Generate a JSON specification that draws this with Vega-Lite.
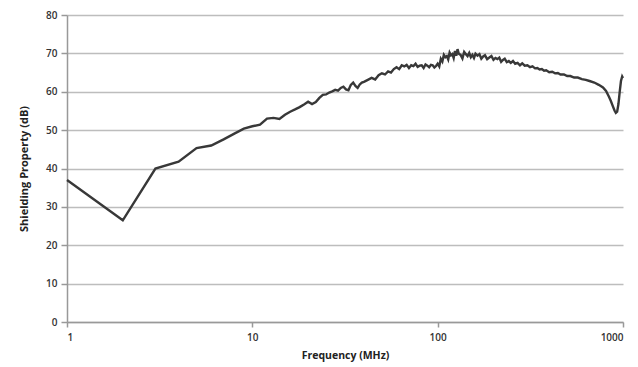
{
  "$schema": "https://vega.github.io/schema/vega-lite/v6.json",
  "width": 556,
  "height": 307,
  "autosize": "none",
  "padding": {"left": 67, "top": 15, "right": 15, "bottom": 45},
  "background": "white",
  "config": {"view": {"stroke": null}},
  "data": {"values": [
    {"f": 1, "db": 37}, {"f": 2, "db": 26.5}, {"f": 3, "db": 40}, {"f": 4, "db": 41.8}, {"f": 5, "db": 45.3},
    {"f": 6, "db": 46}, {"f": 7, "db": 47.6}, {"f": 8, "db": 49.1}, {"f": 9, "db": 50.4}, {"f": 10, "db": 51},
    {"f": 11, "db": 51.4}, {"f": 12, "db": 53}, {"f": 13, "db": 53.2}, {"f": 14, "db": 52.9}, {"f": 15, "db": 54},
    {"f": 16, "db": 54.8}, {"f": 17, "db": 55.4}, {"f": 18, "db": 56}, {"f": 19, "db": 56.7}, {"f": 20, "db": 57.4},
    {"f": 21, "db": 56.8}, {"f": 22, "db": 57.3}, {"f": 23, "db": 58.4}, {"f": 24, "db": 59.2}, {"f": 25, "db": 59.3},
    {"f": 26, "db": 59.8}, {"f": 27, "db": 60.1}, {"f": 28, "db": 60.5}, {"f": 29, "db": 60.3}, {"f": 30, "db": 61.0},
    {"f": 31, "db": 61.3}, {"f": 32, "db": 60.6}, {"f": 33, "db": 60.4}, {"f": 34, "db": 61.8}, {"f": 35, "db": 62.4},
    {"f": 36, "db": 61.5}, {"f": 37, "db": 61.0}, {"f": 38, "db": 61.9}, {"f": 39, "db": 62.4}, {"f": 40, "db": 62.6},
    {"f": 42, "db": 63.1}, {"f": 44, "db": 63.6}, {"f": 46, "db": 63.2}, {"f": 48, "db": 64.3}, {"f": 50, "db": 64.8},
    {"f": 52, "db": 64.5}, {"f": 54, "db": 65.3}, {"f": 56, "db": 65.0}, {"f": 58, "db": 65.9}, {"f": 60, "db": 66.4},
    {"f": 62, "db": 65.9}, {"f": 64, "db": 66.9}, {"f": 66, "db": 66.6}, {"f": 68, "db": 67.0}, {"f": 70, "db": 66.2},
    {"f": 72, "db": 66.9}, {"f": 74, "db": 66.7}, {"f": 76, "db": 67.3}, {"f": 78, "db": 66.5}, {"f": 80, "db": 66.8},
    {"f": 82, "db": 66.9}, {"f": 84, "db": 66.2}, {"f": 86, "db": 67.1}, {"f": 88, "db": 66.8}, {"f": 90, "db": 66.4},
    {"f": 92, "db": 67.0}, {"f": 94, "db": 66.9}, {"f": 96, "db": 66.3}, {"f": 98, "db": 66.7}, {"f": 100, "db": 67.3},
    {"f": 102, "db": 66.6}, {"f": 104, "db": 68.6}, {"f": 106, "db": 67.9}, {"f": 108, "db": 69.6}, {"f": 110, "db": 69.0},
    {"f": 112, "db": 69.3}, {"f": 114, "db": 68.4}, {"f": 116, "db": 70.2}, {"f": 118, "db": 69.5}, {"f": 120, "db": 69.8},
    {"f": 122, "db": 68.8}, {"f": 124, "db": 70.6}, {"f": 126, "db": 69.4}, {"f": 128, "db": 71.1}, {"f": 130, "db": 69.9},
    {"f": 133, "db": 69.6}, {"f": 136, "db": 68.7}, {"f": 139, "db": 70.4}, {"f": 142, "db": 69.8}, {"f": 145, "db": 69.3},
    {"f": 148, "db": 70.1}, {"f": 151, "db": 69.0}, {"f": 154, "db": 69.6}, {"f": 157, "db": 68.8}, {"f": 160, "db": 69.9},
    {"f": 164, "db": 69.4}, {"f": 168, "db": 69.8}, {"f": 172, "db": 68.6}, {"f": 176, "db": 69.2}, {"f": 180, "db": 69.5},
    {"f": 185, "db": 68.5}, {"f": 190, "db": 68.9}, {"f": 195, "db": 69.3}, {"f": 200, "db": 68.3}, {"f": 205, "db": 68.8},
    {"f": 210, "db": 68.5}, {"f": 215, "db": 68.9}, {"f": 220, "db": 67.8}, {"f": 225, "db": 68.3}, {"f": 230, "db": 68.6},
    {"f": 236, "db": 67.7}, {"f": 242, "db": 68.0}, {"f": 248, "db": 67.5}, {"f": 255, "db": 68.0}, {"f": 262, "db": 67.3},
    {"f": 270, "db": 67.5}, {"f": 278, "db": 66.9}, {"f": 286, "db": 67.4}, {"f": 295, "db": 66.8}, {"f": 305, "db": 66.9},
    {"f": 315, "db": 66.4}, {"f": 325, "db": 66.6}, {"f": 335, "db": 66.1}, {"f": 345, "db": 66.2}, {"f": 355, "db": 65.8},
    {"f": 365, "db": 65.9}, {"f": 375, "db": 65.5}, {"f": 385, "db": 65.6}, {"f": 400, "db": 65.1}, {"f": 415, "db": 65.2},
    {"f": 430, "db": 64.8}, {"f": 445, "db": 64.9}, {"f": 460, "db": 64.5}, {"f": 480, "db": 64.5}, {"f": 500, "db": 64.1},
    {"f": 520, "db": 64.1}, {"f": 545, "db": 63.7}, {"f": 570, "db": 63.7}, {"f": 600, "db": 63.3}, {"f": 630, "db": 63.1},
    {"f": 660, "db": 62.8}, {"f": 700, "db": 62.4}, {"f": 740, "db": 61.8}, {"f": 780, "db": 61.1}, {"f": 810, "db": 60.2},
    {"f": 840, "db": 58.7}, {"f": 860, "db": 57.6}, {"f": 880, "db": 56.3}, {"f": 900, "db": 55.1}, {"f": 915, "db": 54.5},
    {"f": 930, "db": 54.8}, {"f": 945, "db": 56.8}, {"f": 960, "db": 60.0}, {"f": 975, "db": 62.8}, {"f": 990, "db": 64.0},
    {"f": 1000, "db": 63.6}
  ]},
  "mark": {"type": "line", "color": "#383838", "strokeWidth": 2.4},
  "encoding": {
    "x": {
      "field": "f", "type": "quantitative",
      "scale": {"type": "log", "domain": [1, 1000], "nice": false},
      "axis": {
        "values": [1, 10, 100, 1000], "format": "d", "grid": false,
        "title": "Frequency (MHz)", "titleFont": "Open Sans", "titleFontSize": 10.5, "titleFontWeight": "bold",
        "titleColor": "#222", "titlePadding": 8,
        "labelFont": "Open Sans", "labelFontSize": 10, "labelFontWeight": 600, "labelColor": "#333",
        "labelPadding": 5, "domainColor": "#999", "domainWidth": 1.5, "tickColor": "#999", "tickSize": 5, "tickWidth": 1.5
      }
    },
    "y": {
      "field": "db", "type": "quantitative",
      "scale": {"domain": [0, 80], "nice": false, "zero": true},
      "axis": {
        "values": [0, 10, 20, 30, 40, 50, 60, 70, 80],
        "title": "Shielding Property (dB)", "titleFont": "Open Sans", "titleFontSize": 11, "titleFontWeight": "bold",
        "titleColor": "#222", "titlePadding": 16,
        "labelFont": "Open Sans", "labelFontSize": 10, "labelFontWeight": 600, "labelColor": "#333",
        "labelPadding": 4, "domainColor": "#999", "domainWidth": 1.5, "tickColor": "#999", "tickSize": 6, "tickWidth": 1.5,
        "gridColor": "#bdbdbd", "gridWidth": 1.5
      }
    }
  }
}
